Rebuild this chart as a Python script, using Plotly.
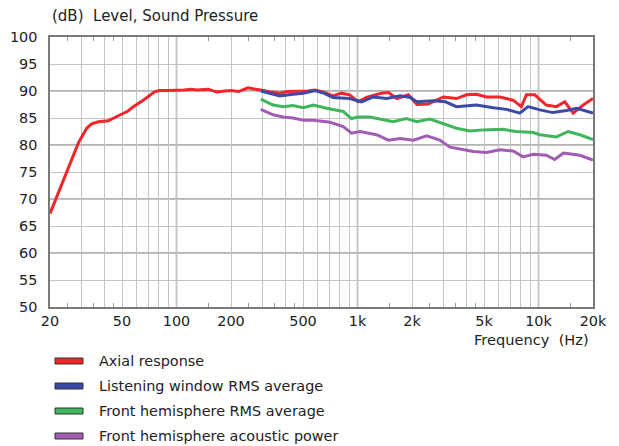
import plotly.graph_objects as go

# ---------------- data ----------------
axial_f = [20, 22.2, 25.2, 28.7, 31.9, 34, 37, 42, 45, 49.8, 54, 57.7, 65.5, 76, 81, 90, 100, 110, 120, 130,
           150, 167, 185, 200, 220, 248, 265, 292, 330, 373, 410, 440, 481, 530, 582, 650, 732, 814, 905,
           1008, 1120, 1250, 1357, 1482, 1650, 1910, 2126, 2460, 2700, 2980, 3520, 4000, 4540, 5160, 6120,
           7240, 8040, 8580, 9540, 11040, 12560, 13980, 15540, 17660, 20000]
axial_db = [67.3, 71.1, 75.7, 80.4, 83.1, 83.9, 84.3, 84.5, 85.0, 85.7, 86.3, 87.1, 88.3, 89.9, 90.1, 90.1, 90.1,
            90.2, 90.3, 90.2, 90.3, 89.8, 90.0, 90.1, 89.9, 90.6, 90.4, 90.2, 89.8, 89.6, 89.9, 89.9, 89.9,
            90.0, 90.2, 89.8, 89.1, 89.6, 89.3, 88.0, 88.8, 89.2, 89.6, 89.7, 88.6, 89.3, 87.5, 87.6, 88.2,
            88.9, 88.6, 89.3, 89.4, 88.9, 88.9, 88.3, 87.1, 89.3, 89.3, 87.4, 87.1, 88.0, 85.9, 87.4, 88.6]

lw_f = [292, 330, 373, 440, 502, 582, 650, 732, 905, 1054, 1222, 1450, 1722, 1960, 2126, 2620, 3060, 3520,
        4540, 5620, 6660, 7880, 8760, 10180, 12000, 14280, 16240, 20000]
lw_db = [90.0, 89.6, 89.1, 89.4, 89.6, 90.1, 89.6, 88.8, 88.6, 88.0, 88.9, 88.6, 89.1, 88.8, 88.0, 88.2, 88.0,
         87.1, 87.4, 86.9, 86.6, 85.9, 87.1, 86.5, 86.0, 86.4, 86.8, 85.9]

fh_f = [292, 342, 388, 440, 502, 570, 676, 834, 926, 1008, 1170, 1330, 1572, 1862, 2126, 2512, 2980, 3520,
        4180, 4940, 6360, 7540, 9360, 10180, 12560, 14580, 16920, 20000]
fh_db = [88.5, 87.4, 87.1, 87.3, 86.9, 87.4, 86.8, 86.2, 84.9, 85.2, 85.2, 84.8, 84.3, 84.9, 84.3, 84.8, 84.0,
         83.1, 82.6, 82.8, 82.9, 82.5, 82.3, 81.9, 81.5, 82.5, 81.9, 81.0]

ap_f = [292, 342, 388, 440, 502, 570, 706, 834, 926, 1032, 1272, 1482, 1722, 2038, 2414, 2850, 3240, 3820,
        4360, 5160, 6120, 7240, 8220, 9360, 11040, 12280, 13740, 16920, 20000]
ap_db = [86.6, 85.6, 85.2, 85.0, 84.6, 84.6, 84.2, 83.4, 82.2, 82.5, 81.9, 80.9, 81.2, 80.9, 81.7, 80.9, 79.6,
         79.1, 78.8, 78.6, 79.1, 78.9, 77.8, 78.3, 78.1, 77.3, 78.5, 78.1, 77.2]

series_names = ["Axial response", "Listening window RMS average",
                "Front hemisphere RMS average", "Front hemisphere acoustic power"]
series_colors = ["#f0262a", "#3b4aa6", "#3fb55c", "#a25cb4"]

x_grid_vals = [20, 30, 40, 50, 60, 70, 80, 90, 100, 200, 300, 400, 500, 600, 700, 800, 900,
               1000, 2000, 3000, 4000, 5000, 6000, 7000, 8000, 9000, 10000, 20000]
x_labels = {20: "20", 50: "50", 100: "100", 200: "200", 500: "500", 1000: "1k",
            2000: "2k", 5000: "5k", 10000: "10k", 20000: "20k"}
x_minor_vals = [25, 35, 45, 150, 250, 350, 450, 1500, 2500, 3500, 4500, 15000]
x_dark_vals = [100, 1000, 10000]
y_ticks = [50, 55, 60, 65, 70, 75, 80, 85, 90, 95, 100]
y_dark_vals = [60, 70, 80, 90]

FONT = "DejaVu Sans, Verdana, sans-serif"
TXT = "#222222"

fig = go.Figure()
for f, d, n, c in zip([axial_f, lw_f, fh_f, ap_f], [axial_db, lw_db, fh_db, ap_db],
                      series_names, series_colors):
    fig.add_trace(go.Scatter(x=f, y=d, mode="lines", name=n, showlegend=False,
                             line=dict(color=c, width=3)))

shapes = []
for v in x_dark_vals:
    shapes.append(dict(type="line", xref="x", yref="paper", x0=v, x1=v, y0=0, y1=1,
                       line=dict(color="#9a9a9a", width=1.5), layer="between"))
for v in y_dark_vals:
    shapes.append(dict(type="line", xref="paper", yref="y", x0=0, x1=1, y0=v, y1=v,
                       line=dict(color="#9a9a9a", width=1.5), layer="between"))

# page offset (body margin of the html page is 8px)
OFF = 8
# plot area in window pixels: x 50..593, y 37..307
W, H = 543.0, 270.0
rows_px = [361, 386, 411, 436]
annotations = []
for n, c, py in zip(series_names, series_colors, rows_px):
    yc = (307 - py) / H
    shapes.append(dict(type="rect", xref="paper", yref="paper",
                       x0=5 / W, x1=33 / W, y0=yc - 3 / H, y1=yc + 3 / H,
                       fillcolor=c, line=dict(color="#333333", width=1)))
    annotations.append(dict(text=n, xref="paper", yref="paper", x=47 / W, y=yc,
                            xanchor="left", yanchor="middle", showarrow=False,
                            font=dict(family=FONT, size=14.4, color=TXT)))

annotations.append(dict(text="(dB)  Level, Sound Pressure", xref="paper", yref="paper",
                        x=0, y=(307 - 16) / H, xanchor="left", yanchor="middle",
                        showarrow=False, font=dict(family=FONT, size=15, color=TXT)))
annotations.append(dict(text="Frequency  (Hz)", xref="paper", yref="paper",
                        x=(591 - 50) / W, y=(307 - 339) / H, xanchor="right", yanchor="middle",
                        showarrow=False, font=dict(family=FONT, size=14.6, color=TXT)))

fig.update_layout(
    width=619 - OFF, height=446 - OFF,
    margin=dict(l=50 - OFF, r=26, t=37 - OFF, b=139, pad=0),
    paper_bgcolor="white", plot_bgcolor="white",
    font=dict(family=FONT, size=14, color=TXT),
    shapes=shapes, annotations=annotations,
    xaxis=dict(type="log", range=[1.30103, 4.30103], automargin=False,
               tickmode="array", tickvals=x_grid_vals,
               ticktext=[x_labels.get(v, "") for v in x_grid_vals],
               ticks="", showgrid=True, gridcolor="#c4c4c4", gridwidth=1,
               showline=True, linecolor="#7a7a7a", linewidth=1.5, mirror="ticks",
               ticklabelstandoff=0, zeroline=False,
               minor=dict(tickmode="array", tickvals=x_minor_vals, ticks="inside",
                          ticklen=4, tickcolor="#9a9a9a", tickwidth=1, showgrid=False),
               tickfont=dict(family=FONT, size=14.4, color=TXT)),
    yaxis=dict(range=[50, 100], tickmode="array", tickvals=y_ticks, automargin=False,
               ticks="", showgrid=True, gridcolor="#c4c4c4", gridwidth=1,
               showline=True, linecolor="#7a7a7a", linewidth=1.5, mirror=True,
               ticklabelstandoff=8, zeroline=False,
               tickfont=dict(family=FONT, size=14.4, color=TXT)),
)

fig.write_html("out.html")
